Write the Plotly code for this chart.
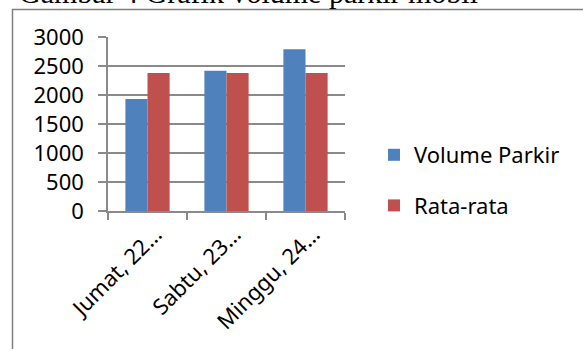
import plotly.graph_objects as go

# Daily parking volume vs. the three-day average
categories = ["Jumat, 22…", "Sabtu, 23…", "Minggu, 24…"]
volume_parkir = [1930, 2420, 2790]
rata_rata = [2380, 2380, 2380]
y_ticks = [0, 500, 1000, 1500, 2000, 2500, 3000]

W, H = 583, 349
L, R, T, B = 108, 345, 37, 211  # plot-area edges in pixels

def px_x(px):
    return (px - L) / (R - L)

def px_y(py):
    return (B - py) / (B - T)

FONT = "Noto Sans"
FS = 22
GRID = "#8a8a8a"

fig = go.Figure()
fig.add_trace(go.Bar(x=categories, y=volume_parkir, name="Volume Parkir",
                     marker=dict(color="#4F81BD", line=dict(width=0)),
                     legendgroup="a"))
fig.add_trace(go.Bar(x=categories, y=rata_rata, name="Rata-rata",
                     marker=dict(color="#C0504D", line=dict(width=0)),
                     legendgroup="b"))

fig.update_layout(
    width=W, height=H,
    margin=dict(l=L, r=W - R, t=T, b=H - B, pad=0),
    paper_bgcolor="white", plot_bgcolor="white",
    barmode="group", bargap=0.44, bargroupgap=0,
    font=dict(family=FONT, size=FS, color="#000000"),
    showlegend=True,
    legend=dict(x=px_x(374), y=px_y(134), xanchor="left", yanchor="top",
                font=dict(family=FONT, size=FS), traceorder="grouped",
                tracegroupgap=19, itemwidth=30, bgcolor="rgba(0,0,0,0)"),
    xaxis=dict(type="category", showline=True, linecolor=GRID, linewidth=1.5,
               ticks="outside", ticklen=7, tickcolor=GRID, tickwidth=1.5,
               tickson="boundaries", tickangle=-45, showgrid=False,
               ticklabelshift=8, ticklabelstandoff=0,
               tickfont=dict(family=FONT, size=FS)),
    yaxis=dict(range=[0, 3000], tickvals=y_ticks, showline=True, linecolor=GRID,
               linewidth=1.5, ticks="outside", ticklen=8, tickcolor=GRID,
               tickwidth=1.5, showgrid=True, gridcolor=GRID, gridwidth=1.5,
               zeroline=False, ticklabelstandoff=10,
               tickfont=dict(family=FONT, size=FS)),
)

# Outer frame of the figure box
fig.add_shape(type="rect", xref="paper", yref="paper",
              x0=px_x(12.5), x1=px_x(600), y0=px_y(9.5), y1=px_y(400),
              line=dict(color="#7f7f7f", width=1.5), fillcolor="rgba(0,0,0,0)",
              layer="below")

# Caption above the frame
fig.add_annotation(text="Gambar 4 Grafik volume parkir mobil",
                   xref="paper", yref="paper", x=px_x(17), y=px_y(-8),
                   xanchor="left", yanchor="middle", showarrow=False,
                   font=dict(family="Liberation Serif", size=30, color="#000000"))

fig.write_html("out.html")
